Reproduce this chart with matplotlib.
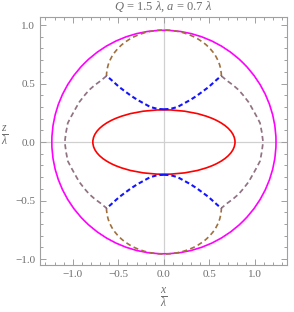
import numpy as np
import matplotlib.pyplot as plt
from matplotlib.patches import Ellipse, Arc
from matplotlib.ticker import MultipleLocator

plt.rcParams['mathtext.fontset'] = 'custom'
plt.rcParams['mathtext.rm'] = 'Liberation Serif'
plt.rcParams['mathtext.it'] = 'Liberation Serif:italic'
plt.rcParams['font.family'] = 'Liberation Serif'

# ellipse-like curves: (center x, center y, semi-axis x, semi-axis y)
zewn_elipsa = (0.0, 0.0, 1.23, 0.955)      # magenta
wewn_elipsa = (0.0, 0.0, 0.78, 0.275)      # red
plat_gorny = (0.0, 0.565, 0.63, 0.392)     # brown upper lobe (upper half)
plat_dolny = (0.0, -0.565, 0.63, 0.392)    # brown lower lobe (lower half)

# blue inner branch (upper right quarter)
nieb_x = [0.0, 0.07, 0.15, 0.22, 0.29, 0.36, 0.43, 0.49, 0.54, 0.59, 0.63]
nieb_y = [0.28, 0.283, 0.30, 0.33, 0.36, 0.395, 0.435, 0.47, 0.505, 0.54, 0.565]

# outer side arc (upper right quarter)
luk_x = [0.63, 0.70, 0.758, 0.82, 0.868, 0.93, 0.978, 1.02, 1.055, 1.075, 1.088]
luk_y = [0.565, 0.52, 0.487, 0.445, 0.402, 0.34, 0.274, 0.215, 0.162, 0.08, 0.0]

szary = '#6e6e6e'
braz = '#a0703c'
nieb = '#1414ff'

fig = plt.figure(figsize=(2.94, 3.12), dpi=100)
ax = fig.add_axes([0.136, 0.151, 0.840, 0.795])

ax.axhline(0, color='#d0d0d0', lw=0.9, zorder=0)
ax.axvline(0, color='#d0d0d0', lw=0.9, zorder=0)

cx, cy, rx, ry = zewn_elipsa
ax.add_patch(Ellipse((cx, cy), 2 * rx, 2 * ry, fill=False, ec='#ff00ff', lw=1.2))
cx, cy, rx, ry = wewn_elipsa
ax.add_patch(Ellipse((cx, cy), 2 * rx, 2 * ry, fill=False, ec='#ff0000', lw=1.2))

cx, cy, rx, ry = plat_gorny
ax.add_patch(Arc((cx, cy), 2 * rx, 2 * ry, theta1=0, theta2=180,
                 ec=braz, lw=1.2, ls=(0, (3, 2))))
cx, cy, rx, ry = plat_dolny
ax.add_patch(Arc((cx, cy), 2 * rx, 2 * ry, theta1=180, theta2=360,
                 ec=braz, lw=1.2, ls=(0, (3, 2))))

lx = np.array(luk_x)
ly = np.array(luk_y)
luk_px = np.concatenate([lx, lx[::-1]])
luk_py = np.concatenate([ly, -ly[::-1]])
for sx in (1, -1):
    ax.plot(sx * luk_px, luk_py, color=braz, lw=1.2, ls=(0, (3, 2)), alpha=0.8)
    ax.plot(sx * luk_px, luk_py, color=nieb, lw=1.2, ls=(0, (3, 2)), alpha=0.22)

bx = np.array(nieb_x)
by = np.array(nieb_y)
for sx in (1, -1):
    for sy in (1, -1):
        ax.plot(sx * bx, sy * by, color=nieb, lw=1.5, ls=(0, (2.2, 1.4)))

ax.set_xlim(-1.36, 1.35)
ax.set_ylim(-1.05, 1.07)
ax.xaxis.set_major_locator(MultipleLocator(0.5))
ax.xaxis.set_minor_locator(MultipleLocator(0.1))
ax.yaxis.set_major_locator(MultipleLocator(0.5))
ax.yaxis.set_minor_locator(MultipleLocator(0.1))
ax.xaxis.set_major_formatter(lambda v, p: f"{v:.1f}".replace('-', '\u2212'))
ax.yaxis.set_major_formatter(lambda v, p: f"{v:.1f}".replace('-', '\u2212'))
ax.tick_params(which='both', direction='in', top=True, right=True,
               color='#a0a0a0', labelcolor=szary, labelsize=8, width=0.7)
ax.tick_params(which='major', length=4)
ax.tick_params(which='minor', length=2)
for s in ax.spines.values():
    s.set_color('#a0a0a0')
    s.set_linewidth(0.8)

ax.set_title(r'$Q$ = 1.5 $\lambda$, $a$ = 0.7 $\lambda$', color=szary, fontsize=9, pad=5)
fig.text(0.557, 0.045, r'$\frac{x}{\lambda}$', color=szary, fontsize=12, ha='center', va='center')
fig.text(0.016, 0.565, r'$\frac{z}{\lambda}$', color=szary, fontsize=12, ha='center', va='center')

fig.savefig('out.png', dpi=100)
